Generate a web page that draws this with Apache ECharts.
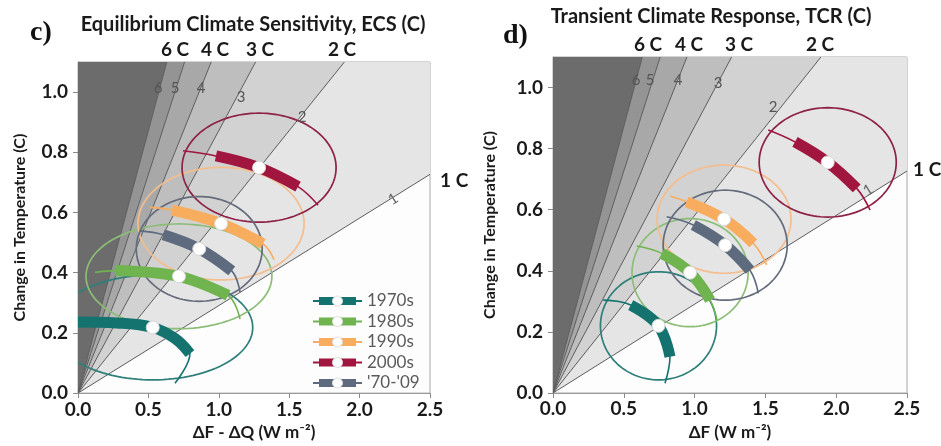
<!DOCTYPE html>
<html><head><meta charset="utf-8">
<script src="https://cdn.jsdelivr.net/npm/echarts@6/dist/echarts.min.js"></script>
<style>html,body{margin:0;padding:0;background:#fff}#c{width:941px;height:446px}</style>
</head><body><div id="c"></div>
<script>
// ---------- data ----------
const xTicks = [0, 0.5, 1.0, 1.5, 2.0, 2.5];
const yTicks = [0, 0.2, 0.4, 0.6, 0.8, 1.0];
const sensitivityLevels = [1, 2, 3, 4, 5, 6];
const forcing2x = 3.44;
const decades = ['1970s', '1980s', '1990s', '2000s', "'70-'09"];
const topLabelsText = ['6 C', '4 C', '3 C', '2 C'];

// panel c) ECS : x = dF - dQ, y = dT
const ecsDots = [[0.531, 0.218], [0.717, 0.388], [1.016, 0.563], [1.286, 0.749], [0.861, 0.479]];
const ecsRadii = [[0.71, 0.174], [0.66, 0.174], [0.59, 0.187], [0.547, 0.181], [0.447, 0.174]];
const ecsThick = [
  [[0, 0.236], [0.275, 0.233], [0.531, 0.218], [0.689, 0.181], [0.795, 0.131]],
  [[0.263, 0.407], [0.717, 0.388], [1.065, 0.325]],
  [[0.668, 0.608], [1.016, 0.563], [1.314, 0.496]],
  [[0.980, 0.788], [1.286, 0.749], [1.563, 0.686]],
  [[0.606, 0.526], [0.861, 0.479], [1.092, 0.406]]
];
const ecsThin = [
  [[0, 0.236], [0.275, 0.233], [0.531, 0.218], [0.689, 0.181], [0.795, 0.131], [0.689, 0.033]],
  [[0.121, 0.401], [0.263, 0.407], [0.717, 0.388], [1.065, 0.325], [1.151, 0.246]],
  [[0.511, 0.617], [0.668, 0.608], [1.016, 0.563], [1.314, 0.496], [1.392, 0.443]],
  [[0.746, 0.805], [0.980, 0.788], [1.286, 0.749], [1.563, 0.686], [1.705, 0.624]],
  [[0.440, 0.539], [0.606, 0.526], [0.861, 0.479], [1.092, 0.406], [1.151, 0.335]]
];

// panel d) TCR : x = dF, y = dT
const tcrDots = [[0.745, 0.220], [0.968, 0.394], [1.208, 0.569], [1.940, 0.755], [1.216, 0.484]];
const tcrRadii = [[0.41, 0.177], [0.41, 0.177], [0.473, 0.177], [0.484, 0.179], [0.438, 0.18]];
const tcrThick = [
  [[0.549, 0.288], [0.745, 0.220], [0.826, 0.119]],
  [[0.768, 0.457], [0.968, 0.394], [1.109, 0.304]],
  [[0.944, 0.626], [1.208, 0.569], [1.415, 0.490]],
  [[1.709, 0.822], [1.940, 0.755], [2.145, 0.670]],
  [[0.991, 0.550], [1.216, 0.484], [1.391, 0.402]]
];
const tcrThin = [
  [[0.355, 0.304], [0.549, 0.288], [0.745, 0.220], [0.826, 0.119], [0.791, 0.032]],
  [[0.591, 0.481], [0.768, 0.457], [0.968, 0.394], [1.109, 0.304], [1.158, 0.239]],
  [[0.826, 0.645], [0.944, 0.626], [1.208, 0.569], [1.415, 0.490], [1.509, 0.419]],
  [[1.520, 0.861], [1.709, 0.822], [1.940, 0.755], [2.145, 0.670], [2.239, 0.599]],
  [[0.803, 0.577], [0.991, 0.550], [1.216, 0.484], [1.391, 0.402], [1.450, 0.326]]
];

// ---------- style ----------
const thickColors = ['#15736f', '#70b450', '#f8ad5e', '#a0163f', '#5e6a7e'];
const ellipseColors = ['#2f7f7a', '#8cbd76', '#f4bd8e', '#8d2146', '#646b7b'];
const bandColors = ['#e5e5e5', '#d2d2d2', '#bebebe', '#a8a8a8', '#949494', '#6c6c6c'];
const X_MAX = 2.5, Y_MAX = 1.1;
const FONT = 'Lato, "Open Sans", sans-serif';

const chart = echarts.init(document.getElementById('c'), null, { renderer: 'canvas' });

function shading(idx) {
  return {
    type: 'custom', xAxisIndex: idx, yAxisIndex: idx, clip: true, silent: true, z: 1,
    data: [[0, 0]],
    renderItem: function (params, api) {
      const slopes = sensitivityLevels.map(s => s / forcing2x);
      const endPt = s => (s * X_MAX <= Y_MAX ? [X_MAX, s * X_MAX] : [Y_MAX / s, Y_MAX]);
      const children = [];
      for (let i = 0; i < slopes.length; i++) {
        const a = endPt(slopes[i]);
        let pts;
        if (i < slopes.length - 1) {
          const b = endPt(slopes[i + 1]);
          pts = [[0, 0], a];
          if (a[0] === X_MAX && b[1] === Y_MAX && b[0] !== X_MAX) pts.push([X_MAX, Y_MAX]);
          pts.push(b);
        } else {
          pts = [[0, 0], a, [0, Y_MAX]];
        }
        children.push({ type: 'polygon', shape: { points: pts.map(p => api.coord(p)) }, style: { fill: bandColors[i] } });
      }
      slopes.forEach(s => {
        const o = api.coord([0, 0]), e = api.coord(endPt(s));
        children.push({ type: 'line', shape: { x1: o[0], y1: o[1], x2: e[0], y2: e[1] }, style: { stroke: '#5c5c5c', lineWidth: 1 } });
      });
      return { type: 'group', children: children };
    }
  };
}

function ellipses(idx, dots, radii) {
  return {
    type: 'custom', xAxisIndex: idx, yAxisIndex: idx, clip: true, silent: true, z: 2,
    data: dots.map((d, i) => [d[0], d[1], radii[i][0], radii[i][1], i]),
    renderItem: function (params, api) {
      const cx = api.value(0), cy = api.value(1), rx = api.value(2), ry = api.value(3), i = api.value(4);
      const pts = [];
      for (let k = 0; k < 120; k++) {
        const t = k / 120 * Math.PI * 2;
        pts.push(api.coord([cx + rx * Math.cos(t), cy + ry * Math.sin(t)]));
      }
      return { type: 'polygon', shape: { points: pts }, style: { fill: 'none', stroke: ellipseColors[i], lineWidth: 1.7 } };
    }
  };
}

function arcSeries(idx, thin, thick, dots) {
  const out = [];
  thin.forEach((d, i) => out.push({
    type: 'line', xAxisIndex: idx, yAxisIndex: idx, data: d, smooth: 0.4, symbol: 'none', z: 3, silent: true,
    lineStyle: { color: thickColors[i], width: 1.6 }
  }));
  thick.forEach((d, i) => out.push({
    type: 'line', xAxisIndex: idx, yAxisIndex: idx, data: d, smooth: 0.4, symbol: 'none', z: 4, silent: true,
    lineStyle: { color: thickColors[i], width: 11, cap: 'butt', join: 'round' }
  }));
  out.push({
    type: 'scatter', xAxisIndex: idx, yAxisIndex: idx, data: dots, symbolSize: 13, z: 5, silent: true,
    itemStyle: { color: '#ffffff', borderColor: '#d6d6d6', borderWidth: 1, opacity: 1 }
  });
  return out;
}

function xAxis(idx, name, nameGap, margin) {
  return {
    type: 'value', gridIndex: idx, min: 0, max: X_MAX, interval: 0.5,
    name: name, nameLocation: 'middle', nameGap: nameGap,
    nameTextStyle: { fontFamily: FONT, fontWeight: 'bold', fontSize: 17, color: '#1a1a1a' },
    axisLine: { show: true, lineStyle: { color: '#9a9a9a' } },
    axisTick: { show: true, length: 5, lineStyle: { color: '#8a8a8a' } },
    axisLabel: { margin: margin, fontFamily: FONT, fontWeight: 'bold', fontSize: 19, color: '#1a1a1a',
      formatter: v => (xTicks.indexOf(+v.toFixed(1)) >= 0 ? v.toFixed(1) : '') },
    splitLine: { show: false }
  };
}
function yAxis(idx, nameGap) {
  return {
    type: 'value', gridIndex: idx, min: 0, max: Y_MAX, interval: 0.2,
    name: 'Change in Temperature (C)', nameLocation: 'middle', nameGap: nameGap, nameRotate: 90,
    nameTextStyle: { fontFamily: FONT, fontWeight: 'bold', fontSize: 16, color: '#1a1a1a' },
    axisLine: { show: true, lineStyle: { color: '#9a9a9a' } },
    axisTick: { show: true, length: 5, lineStyle: { color: '#8a8a8a' } },
    axisLabel: { margin: 10, showMaxLabel: false, fontFamily: FONT, fontWeight: 'bold', fontSize: 19, color: '#1a1a1a',
      formatter: v => (yTicks.indexOf(+v.toFixed(1)) >= 0 ? v.toFixed(1) : '') },
    splitLine: { show: false }
  };
}

// ---------- decorative text / legend ----------
const graphics = [];
function txt(x, y, s, font, fill, align, rot) {
  graphics.push({ type: 'text', x: x, y: y, rotation: rot || 0, z: 50,
    style: { text: s, font: font, fill: fill, align: align || 'center', verticalAlign: 'middle' } });
}
const titleF = 'bold 20px ' + FONT;
const boldT = 'bold 19px ' + FONT;
txt(30, 33, 'c)', 'bold 28px "Liberation Serif", "DejaVu Serif", serif', '#111', 'left');
txt(253, 25, 'Equilibrium Climate Sensitivity, ECS (C)', titleF, '#1a1a1a');
[175, 215, 260, 342].forEach((x, i) => txt(x, 50, topLabelsText[i], boldT, '#1a1a1a'));
txt(440, 181, '1 C', boldT, '#1a1a1a', 'left');

txt(503, 36, 'd)', 'bold 28px "Liberation Serif", "DejaVu Serif", serif', '#111', 'left');
txt(711, 17, 'Transient Climate Response, TCR (C)', titleF, '#1a1a1a');
[648, 689, 739, 820].forEach((x, i) => txt(x, 45, topLabelsText[i], boldT, '#1a1a1a'));
txt(913, 170, '1 C', boldT, '#1a1a1a', 'left');

// line numbers
const numFont = '15px ' + FONT;
[[158, 88, '6'], [175, 88, '5'], [201, 88, '4'], [241, 97, '3'], [302, 117, '2']].forEach(p => txt(p[0], p[1], p[2], numFont, '#555'));
txt(393, 199, '1', numFont, '#666', 'center', 0.56);
[[636, 80, '6'], [650, 80, '5'], [678, 80, '4'], [718, 83, '3'], [773, 107, '2']].forEach(p => txt(p[0], p[1], p[2], numFont, '#555'));
txt(868, 190, '1', numFont, '#666', 'center', 0.56);

// legend
decades.forEach((d, i) => {
  const y = 301 + i * 20.5;
  graphics.push({ type: 'line', z: 50, shape: { x1: 313, y1: y, x2: 362, y2: y }, style: { stroke: thickColors[i], lineWidth: 2 } });
  graphics.push({ type: 'rect', z: 50, shape: { x: 319, y: y - 4, width: 37, height: 8 }, style: { fill: thickColors[i] } });
  graphics.push({ type: 'circle', z: 51, shape: { cx: 337.5, cy: y, r: 5 }, style: { fill: '#fff', stroke: '#dddddd', lineWidth: 1 } });
  txt(367, y, d, '17px ' + FONT, '#5a5a5a', 'left');
});

const option = {
  animation: false,
  backgroundColor: '#ffffff',
  grid: [
    { left: 78, top: 62, right: 511, bottom: 49, show: true, borderColor: '#a8a8a8', borderWidth: 1, backgroundColor: '#fdfdfd' },
    { left: 553, top: 57, right: 34, bottom: 53, show: true, borderColor: '#a8a8a8', borderWidth: 1, backgroundColor: '#fdfdfd' }
  ],
  xAxis: [xAxis(0, 'ΔF - ΔQ (W m⁻²)', 27, 7), xAxis(1, 'ΔF (W m⁻²)', 31, 6)],
  yAxis: [yAxis(0, 50), yAxis(1, 55)],
  series: [].concat(
    [shading(0), ellipses(0, ecsDots, ecsRadii)], arcSeries(0, ecsThin, ecsThick, ecsDots),
    [shading(1), ellipses(1, tcrDots, tcrRadii)], arcSeries(1, tcrThin, tcrThick, tcrDots)
  ),
  graphic: graphics
};
chart.setOption(option);
</script>
</body></html>
